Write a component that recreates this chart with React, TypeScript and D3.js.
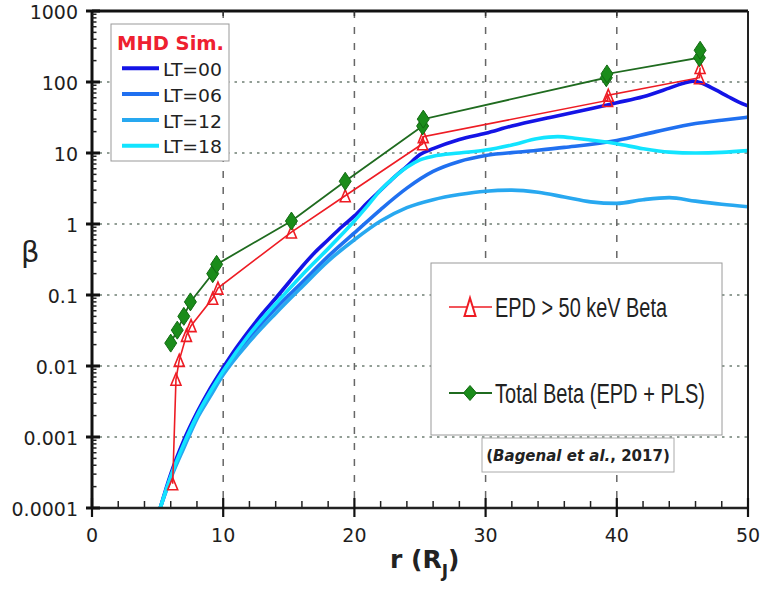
import React from "react";
import * as d3 from "d3";

// ---- data ----
const xTickValues = [0, 10, 20, 30, 40, 50];
const xTickLabels = ["0", "10", "20", "30", "40", "50"];
const yTickValues = [0.0001, 0.001, 0.01, 0.1, 1, 10, 100, 1000];
const yTickLabels = ["0.0001", "0.001", "0.01", "0.1", "1", "10", "100", "1000"];

const lt00R = [5.2, 6, 7, 8, 9, 10, 11, 12, 13, 14, 15, 16, 17, 18, 19, 20, 21, 22, 23, 24, 25, 26, 28, 30, 32, 35, 38, 40, 42, 44, 45, 45.8, 46.5, 47.5, 48.5, 49.3, 50];
const lt00B = [1e-4, 3e-4, 9e-4, 2.2e-3, 4.8e-3, 0.0095, 0.018, 0.032, 0.055, 0.09, 0.15, 0.25, 0.4, 0.6, 0.9, 1.3, 2, 3, 4.5, 6.5, 9.5, 11.5, 15.5, 19, 24, 32, 42, 51, 62, 82, 95, 103, 96, 78, 62, 52, 46];

const lt06R = [5.2, 6, 7, 8, 9, 10, 12, 14, 16, 18, 20, 22, 24, 26, 28, 30, 33, 36, 40, 43, 46, 48, 50];
const lt06B = [1e-4, 2.7e-4, 7.5e-4, 1.9e-3, 4e-3, 0.008, 0.025, 0.065, 0.15, 0.35, 0.75, 1.6, 3.2, 5.5, 7.6, 9.2, 10.5, 12, 15, 20, 26, 29, 32];

const lt12R = [5.2, 6, 7, 8, 9, 10, 12, 14, 16, 18, 20, 22, 24, 26, 28, 30, 32, 34, 36, 38, 40, 42, 44, 46, 48, 50];
const lt12B = [1e-4, 2.6e-4, 7e-4, 1.8e-3, 3.7e-3, 0.0075, 0.022, 0.055, 0.13, 0.3, 0.6, 1.1, 1.7, 2.2, 2.6, 2.9, 3.0, 2.8, 2.4, 2.05, 1.95, 2.2, 2.35, 2.1, 1.9, 1.75];

const lt18R = [5.2, 6, 7, 8, 9, 10, 12, 14, 16, 18, 19, 20, 21, 22, 23, 24, 25, 26, 28, 30, 32, 34, 35.5, 37, 40, 42, 44, 46, 48, 50];
const lt18B = [1e-4, 2.8e-4, 8e-4, 2e-3, 4.3e-3, 0.0085, 0.028, 0.075, 0.19, 0.45, 0.7, 1.1, 1.8, 3, 4.5, 6.3, 8, 9, 10, 11, 13, 16, 17, 16, 13.5, 11.5, 10.3, 10, 10.2, 10.8];

const epdR = [6.15, 6.4, 6.65, 7.2, 7.55, 9.2, 9.6, 15.2, 19.3, 25.2, 25.25, 39.3, 39.35, 46.3, 46.35];
const epdBeta = [0.00022, 0.0065, 0.012, 0.027, 0.037, 0.09, 0.125, 0.77, 2.5, 13.5, 17, 55, 65, 115, 160];

const totR = [6.0, 6.5, 7.0, 7.5, 9.2, 9.5, 15.2, 19.3, 25.2, 25.25, 39.2, 39.25, 46.3, 46.35];
const totBeta = [0.021, 0.032, 0.05, 0.08, 0.2, 0.27, 1.1, 4.0, 24, 30, 115, 130, 220, 280];

const simNames = ["LT=00", "LT=06", "LT=12", "LT=18"];
const simColors = ["#1414e6", "#2070f0", "#28a8f0", "#12e4ff"];
const simR = [lt00R, lt06R, lt12R, lt18R];
const simB = [lt00B, lt06B, lt12B, lt18B];

// ---- layout ----
const W = 764, H = 589;
const X0 = 92, X1 = 748, Y0 = 508, Y1 = 11;
const xs = d3.scaleLinear().domain([0, 50]).range([X0, X1]);
const ys = d3.scaleLog().domain([1e-4, 1e3]).range([Y0, Y1]);
const FONT = "'DejaVu Sans', sans-serif";
const NARROW = "'Liberation Sans', Arial, sans-serif";
const NARROW_SX = 0.67;

const RED = "#ee1c24";
const GREEN_LINE = "#1f6b1f";
const GREEN_FILL = "#1a8c1a";

function triPath(cx: number, cy: number, w: number, h: number) {
  return `M${cx},${cy - h / 2} L${cx + w / 2},${cy + h / 2} L${cx - w / 2},${cy + h / 2} Z`;
}
function diaPath(cx: number, cy: number, w: number, h: number) {
  return `M${cx},${cy - h / 2} L${cx + w / 2},${cy} L${cx},${cy + h / 2} L${cx - w / 2},${cy} Z`;
}

function NarrowText({ x, y, width, children }: { x: number; y: number; width: number; children: string }) {
  return (
    <g transform={`translate(${x},${y}) scale(${NARROW_SX},1)`}>
      <text x={0} y={0} fontSize={28} fontFamily={NARROW} fill="#222" textLength={width / NARROW_SX} lengthAdjust="spacingAndGlyphs">
        {children}
      </text>
    </g>
  );
}

export default function App() {
  const line = d3
    .line<[number, number]>()
    .x((d) => xs(d[0]))
    .y((d) => ys(d[1]))
    .curve(d3.curveMonotoneX);
  const straight = d3
    .line<[number, number]>()
    .x((d) => xs(d[0]))
    .y((d) => ys(d[1]));

  const simPaths = simR.map((rs, i) => line(rs.map((r, j) => [r, simB[i][j]] as [number, number])) as string);
  const epdPts = epdR.map((r, i) => [r, epdBeta[i]] as [number, number]);
  const totPts = totR.map((r, i) => [r, totBeta[i]] as [number, number]);

  const minorY: number[] = [];
  for (let e = -4; e < 3; e++) for (let m = 2; m <= 9; m++) minorY.push(m * Math.pow(10, e));
  const minorX = d3.range(0, 51, 2).filter((v) => v % 10 !== 0);

  return (
    <svg width={W} height={H} style={{ position: "absolute", left: 0, top: 0, background: "#fff" }} fontFamily={FONT}>
      <defs>
        <clipPath id="plot">
          <rect x={X0} y={Y1} width={X1 - X0} height={Y0 - Y1} />
        </clipPath>
      </defs>
      <rect x={0} y={0} width={W} height={H} fill="#fff" />

      {/* grid */}
      {yTickValues.slice(1, -1).map((v) => (
        <line key={"gy" + v} x1={X0} x2={X1} y1={ys(v)} y2={ys(v)} stroke="#6f7f74" strokeWidth={1.6} strokeDasharray="2.5,5" />
      ))}
      {xTickValues.slice(1, -1).map((v) => (
        <line key={"gx" + v} x1={xs(v)} x2={xs(v)} y1={Y1} y2={Y0} stroke="#666" strokeWidth={1.5} strokeDasharray="7,9" />
      ))}

      {/* legend 2 box & citation box (cover grid) */}
      <rect x={431} y={263} width={291} height={172} fill="#fff" stroke="#9a9a9a" strokeWidth={1} />
      <rect x={482} y={438} width={192} height={34} fill="#fff" stroke="#aaa" strokeWidth={1} />
      <text x={578} y={461} textAnchor="middle" fontSize={15} fontWeight="bold" fill="#222">
        (<tspan fontStyle="italic">Bagenal et al.</tspan>, 2017)
      </text>

      {/* simulation curves */}
      <g clipPath="url(#plot)">
        {simPaths.map((p, i) => (
          <path key={"sim" + i} d={p} fill="none" stroke={simColors[i]} strokeWidth={3.6} strokeLinecap="round" />
        ))}
      </g>

      {/* EPD / total lines & markers */}
      <path d={straight(epdPts) as string} fill="none" stroke={RED} strokeWidth={1.6} />
      <path d={straight(totPts) as string} fill="none" stroke={GREEN_LINE} strokeWidth={1.8} />
      {epdPts.map((d, i) => (
        <path key={"ep" + i} d={triPath(xs(d[0]), ys(d[1]), 10, 12)} fill="none" stroke={RED} strokeWidth={1.6} />
      ))}
      {totPts.map((d, i) => (
        <path key={"tp" + i} d={diaPath(xs(d[0]), ys(d[1]), 12, 18)} fill={GREEN_FILL} stroke="#136a13" strokeWidth={1} />
      ))}

      {/* frame */}
      <line x1={X0} x2={X1} y1={Y1} y2={Y1} stroke="#111" strokeWidth={3} />
      <line x1={X1} x2={X1} y1={Y1} y2={Y0} stroke="#222" strokeWidth={2} />
      <line x1={X0} x2={X0} y1={Y1 - 1} y2={Y0 + 1} stroke="#111" strokeWidth={3} />
      <line x1={X0} x2={X1 + 1} y1={Y0} y2={Y0} stroke="#222" strokeWidth={2.5} />

      {/* y ticks */}
      {yTickValues.map((v, i) => (
        <g key={"yt" + v}>
          <line x1={X0 - 6} x2={X0 + 8} y1={ys(v)} y2={ys(v)} stroke="#111" strokeWidth={3} />
          <text x={78} y={ys(v) + 7.5} textAnchor="end" fontSize={19} fill="#1e1e1e">
            {yTickLabels[i]}
          </text>
        </g>
      ))}
      {minorY.map((v) => (
        <line key={"my" + v} x1={X0} x2={X0 + 4.5} y1={ys(v)} y2={ys(v)} stroke="#222" strokeWidth={1.5} />
      ))}

      {/* x ticks */}
      {xTickValues.map((v, i) => (
        <g key={"xt" + v}>
          <line x1={xs(v)} x2={xs(v)} y1={Y0 - 10} y2={Y0 + 9} stroke="#111" strokeWidth={2.2} />
          {v > 0 && v < 50 && <line x1={xs(v)} x2={xs(v)} y1={Y1} y2={Y1 + 5} stroke="#333" strokeWidth={1.5} />}
          <text x={xs(v)} y={542} textAnchor="middle" fontSize={19} fill="#1e1e1e">
            {xTickLabels[i]}
          </text>
        </g>
      ))}
      {minorX.map((v) => (
        <line key={"mx" + v} x1={xs(v)} x2={xs(v)} y1={Y0 - 7} y2={Y0} stroke="#222" strokeWidth={1.5} />
      ))}

      {/* axis titles */}
      <text x={21} y={262} fontSize={29} fill="#222">β</text>
      <text x={390} y={568} fontSize={25} fontWeight="bold" fill="#222">
        r (R<tspan dy={9} fontSize={17}>J</tspan><tspan dy={-9}>)</tspan>
      </text>

      {/* legend 1 */}
      <rect x={111} y={24} width={118} height={137} fill="#fff" stroke="#999" strokeWidth={1} />
      <text x={117} y={50} fontSize={19.5} fontWeight="bold" fill="#ee2030" textLength={107} lengthAdjust="spacingAndGlyphs">
        MHD Sim.
      </text>
      {simNames.map((n, i) => {
        const yy = 68.3 + i * 25.8;
        return (
          <g key={"l1" + n}>
            <line x1={122} x2={159} y1={yy} y2={yy} stroke={simColors[i]} strokeWidth={4} />
            <text x={163} y={yy + 7.7} fontSize={18} fill="#222" textLength={59} lengthAdjust="spacingAndGlyphs">
              {n}
            </text>
          </g>
        );
      })}

      {/* legend 2 */}
      <line x1={449} x2={492} y1={307} y2={307} stroke={RED} strokeWidth={1.6} />
      <path d={triPath(470, 307, 11, 18)} fill="#fff" stroke={RED} strokeWidth={2} />
      <NarrowText x={495} y={317} width={172}>EPD &gt; 50 keV Beta</NarrowText>
      <line x1={449} x2={492} y1={393} y2={393} stroke={GREEN_LINE} strokeWidth={1.8} />
      <path d={diaPath(470, 393, 13, 15)} fill={GREEN_FILL} stroke="#136a13" strokeWidth={1} />
      <NarrowText x={495} y={402.5} width={210}>Total Beta (EPD + PLS)</NarrowText>
    </svg>
  );
}
